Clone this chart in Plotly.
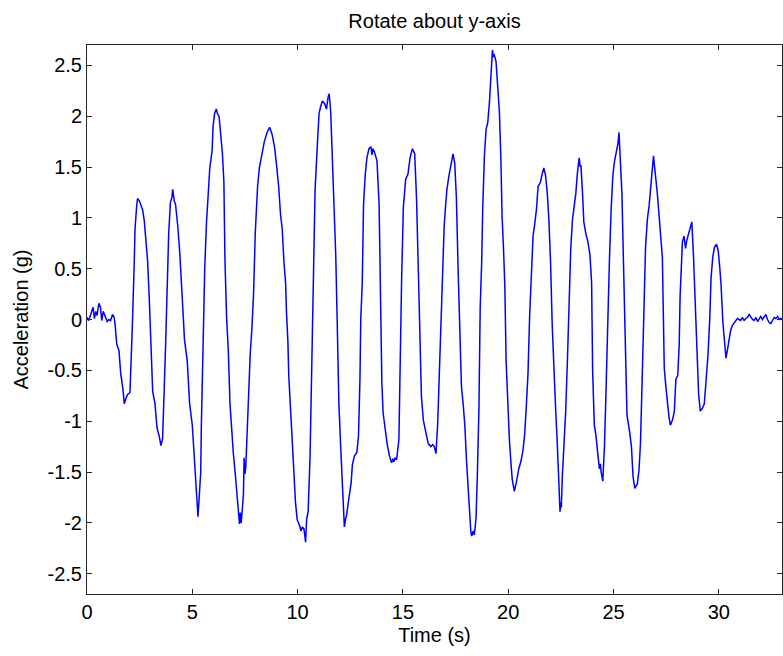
import plotly.graph_objects as go

# Time stamps (s) and acceleration readings (g) for the y-axis rotation trial
time_s = [
    0.00, 0.08, 0.16, 0.24, 0.29, 0.35, 0.42, 0.48, 0.56, 0.64, 0.70, 0.77, 0.83, 0.89, 0.96,
    1.04, 1.12, 1.21, 1.29, 1.34, 1.41, 1.52, 1.60, 1.71, 1.77, 1.84, 1.92, 2.04, 2.08, 2.16,
    2.24, 2.28, 2.36, 2.40, 2.48, 2.52, 2.64, 2.72, 2.80, 2.88, 2.96, 3.04, 3.12, 3.23, 3.32,
    3.43, 3.51, 3.59, 3.64, 3.72, 3.80, 3.88, 3.96, 4.03, 4.07, 4.15, 4.20, 4.31, 4.41, 4.52,
    4.63, 4.76, 4.87, 5.00, 5.11, 5.19, 5.27, 5.30, 5.35,
    5.40, 5.43, 5.51, 5.59, 5.67, 5.75, 5.83, 5.94, 5.99, 6.06, 6.14, 6.20, 6.27, 6.35, 6.43,
    6.50, 6.55, 6.63, 6.71, 6.79, 6.88, 6.95, 7.04, 7.14, 7.20, 7.24, 7.28, 7.32, 7.37, 7.43,
    7.46, 7.50, 7.54, 7.59, 7.67, 7.75, 7.83, 7.91, 7.99, 8.10, 8.19, 8.31, 8.42, 8.55, 8.67,
    8.79, 8.90, 8.99, 9.10, 9.19, 9.27, 9.35, 9.43, 9.47, 9.54, 9.58, 9.66, 9.74, 9.82, 9.90,
    9.98, 10.10, 10.16, 10.22, 10.30, 10.38, 10.43, 10.50, 10.59, 10.67, 10.75, 10.83, 10.94, 11.02,
    11.10, 11.18, 11.29, 11.37, 11.45, 11.50, 11.57, 11.65, 11.73, 11.81, 11.88, 11.96, 12.06, 12.14,
    12.22, 12.28, 12.33, 12.44, 12.54, 12.60, 12.70, 12.81, 12.89, 12.96, 13.00, 13.07, 13.13, 13.21,
    13.29, 13.39, 13.48, 13.53, 13.58, 13.66, 13.77, 13.87, 13.93, 14.00, 14.06, 14.17, 14.25, 14.36,
    14.46, 14.52, 14.57, 14.63, 14.70, 14.81, 14.86, 14.94, 15.02, 15.13, 15.24, 15.34, 15.45, 15.51,
    15.56, 15.65, 15.72, 15.80, 15.88, 15.97, 16.09, 16.20, 16.33, 16.41, 16.49, 16.57, 16.65, 16.73,
    16.81, 16.89, 16.96,
    17.03, 17.09, 17.19, 17.30, 17.38, 17.46, 17.54, 17.62, 17.70, 17.78, 17.86, 17.94, 18.02, 18.10,
    18.18, 18.23, 18.27, 18.34, 18.39, 18.47, 18.53, 18.61, 18.67, 18.74, 18.79, 18.87, 18.95, 19.03,
    19.11, 19.17, 19.25, 19.30, 19.33, 19.42, 19.50, 19.58, 19.65, 19.71, 19.78, 19.84, 19.90, 19.98,
    20.06, 20.13, 20.19, 20.29, 20.34, 20.38, 20.50, 20.61, 20.70, 20.78, 20.86, 20.94, 21.02, 21.10,
    21.18, 21.26, 21.34, 21.42, 21.53, 21.61, 21.69, 21.77, 21.85, 21.93, 22.01, 22.09, 22.17, 22.25,
    22.33, 22.41, 22.46, 22.49, 22.52,
    22.57, 22.65, 22.73, 22.81, 22.89, 22.97, 23.05, 23.13, 23.21, 23.29, 23.37, 23.42, 23.45, 23.53,
    23.59, 23.69, 23.77, 23.88, 23.96, 24.01, 24.09, 24.17, 24.25, 24.33, 24.38, 24.41, 24.49, 24.57,
    24.65, 24.73, 24.81, 24.89, 24.97, 25.05, 25.13, 25.21, 25.26, 25.29, 25.34, 25.40, 25.48, 25.56,
    25.64, 25.77, 25.85, 25.93, 26.01, 26.09, 26.13, 26.21, 26.28, 26.36, 26.44, 26.52, 26.61, 26.69,
    26.77, 26.85, 26.90, 26.93, 27.00, 27.08, 27.16, 27.24, 27.32, 27.36, 27.41, 27.49, 27.57, 27.64,
    27.70, 27.80, 27.89, 27.96, 28.05, 28.12,
    28.16, 28.21, 28.27, 28.35, 28.42, 28.48, 28.56, 28.64, 28.72, 28.80, 28.88, 28.96, 29.04, 29.12,
    29.23, 29.31, 29.41, 29.49, 29.57, 29.63, 29.71, 29.79, 29.89, 29.97, 30.05, 30.11, 30.19, 30.27,
    30.34, 30.40, 30.48, 30.56, 30.64, 30.72, 30.80, 30.88, 30.96, 31.04, 31.12, 31.20, 31.28, 31.36,
    31.44, 31.52, 31.60, 31.68, 31.76, 31.84, 31.92, 31.99, 32.07, 32.15, 32.23, 32.31, 32.39, 32.47,
    32.55, 32.63, 32.71, 32.79, 32.87, 32.95, 33.00,
]

accel_g = [
    0.02, -0.01, 0.04, 0.08, 0.12, 0.01, 0.08, 0.04, 0.16, 0.12, -0.01, 0.08, 0.05, 0.02, -0.02,
    0.00, -0.01, 0.05, 0.02, -0.06, -0.24, -0.31, -0.53, -0.69, -0.83, -0.78, -0.74, -0.72, -0.52, -0.02,
    0.54, 0.89, 1.12, 1.19, 1.17, 1.15, 1.08, 0.97, 0.78, 0.57, 0.19, -0.36, -0.71, -0.83, -1.06,
    -1.15, -1.24, -1.17, -0.90, -0.34, 0.26, 0.85, 1.15, 1.20, 1.28, 1.16, 1.14, 0.92, 0.64, 0.19,
    -0.20, -0.41, -0.82, -1.04, -1.43, -1.71, -1.94, -1.84, -1.71,
    -1.50, -1.04, -0.24, 0.50, 0.94, 1.29, 1.49, 1.66, 1.91, 2.03, 2.07, 2.02, 2.00, 1.82, 1.63,
    1.35, 0.59, 0.01, -0.31, -0.83, -1.17, -1.32, -1.52, -1.78, -1.95, -2.01, -1.90, -2.00, -1.88, -1.71,
    -1.36, -1.52, -1.45, -1.18, -0.92, -0.34, -0.09, 0.26, 0.85, 1.31, 1.50, 1.64, 1.75, 1.84, 1.89,
    1.82, 1.70, 1.54, 1.31, 1.03, 0.89, 0.57, 0.36, 0.08, -0.22, -0.55, -0.90, -1.25, -1.50, -1.80,
    -1.97, -2.03, -2.08, -2.04, -2.06, -2.19, -1.96, -1.89, -1.36, -0.38, 0.61, 1.28, 1.73, 2.03,
    2.10, 2.15, 2.12, 2.07, 2.19, 2.22, 2.05, 1.63, 1.20, 0.64, -0.02, -0.83, -1.32, -1.75,
    -2.04, -1.96, -1.92, -1.75, -1.61, -1.43, -1.34, -1.31, -1.15, -0.59, 0.01, 0.36, 1.13, 1.42,
    1.59, 1.68, 1.70, 1.62, 1.68, 1.64, 1.56, 1.13, 0.29, -0.62, -0.92, -1.11, -1.22, -1.34,
    -1.41, -1.37, -1.40, -1.36, -1.38, -1.18, -0.48, 0.41, 1.10, 1.38, 1.43, 1.59, 1.68, 1.66,
    1.63, 1.17, 0.61, -0.17, -0.76, -0.99, -1.11, -1.22, -1.25, -1.23, -1.25, -1.32, -1.03, -0.52,
    0.17, 0.66, 0.92,
    1.13, 1.28, 1.42, 1.56, 1.63, 1.54, 1.20, 0.50, -0.17, -0.66, -0.83, -1.04, -1.39, -1.71,
    -1.97, -2.10, -2.13, -2.08, -2.12, -1.96, -1.57, -0.87, 0.12, 0.56, 1.10, 1.61, 1.87, 1.94,
    2.14, 2.43, 2.65, 2.58, 2.61, 2.54, 2.33, 2.05, 1.59, 1.01, 0.68, 0.33, -0.41, -0.89,
    -1.20, -1.41, -1.57, -1.69, -1.62, -1.61, -1.47, -1.39, -1.29, -1.13, -0.85, -0.53, 0.05, 0.54,
    0.82, 0.94, 1.08, 1.31, 1.35, 1.43, 1.49, 1.42, 1.26, 0.99, 0.57, -0.06, -0.52, -0.87,
    -1.22, -1.75, -1.89, -1.80, -1.85,
    -1.54, -1.25, -0.90, -0.41, 0.22, 0.70, 0.98, 1.10, 1.24, 1.45, 1.59, 1.50, 1.52, 1.24,
    0.96, 0.84, 0.78, 0.64, 0.36, -0.52, -1.04, -1.15, -1.32, -1.47, -1.42, -1.50, -1.59, -1.25,
    -0.66, 0.08, 0.61, 1.10, 1.42, 1.56, 1.66, 1.73, 1.84, 1.70, 1.63, 1.24, 0.50, -0.31,
    -0.94, -1.11, -1.25, -1.55, -1.66, -1.63, -1.62, -1.48, -1.22, -0.59, 0.15, 0.71, 0.99, 1.12,
    1.31, 1.49, 1.61, 1.54, 1.42, 1.24, 1.03, 0.85, 0.61, 0.12, -0.48, -0.67, -0.87, -0.97,
    -1.04, -0.99, -0.90, -0.59, -0.55, -0.24,
    0.22, 0.54, 0.76, 0.82, 0.70, 0.78, 0.84, 0.92, 0.96, 0.61, 0.15, -0.34, -0.73, -0.90,
    -0.87, -0.83, -0.59, -0.34, 0.01, 0.40, 0.61, 0.71, 0.74, 0.68, 0.50, 0.33, -0.02, -0.27,
    -0.38, -0.31, -0.20, -0.11, -0.06, -0.04, -0.01, 0.01, 0.00, -0.01, 0.02, -0.01, 0.01, 0.02,
    0.05, 0.02, 0.00, -0.01, 0.02, -0.02, 0.01, 0.03, 0.00, 0.02, 0.05, 0.00, -0.03, -0.04,
    -0.01, 0.02, 0.01, 0.03, 0.00, 0.01, 0.00,
]

x_ticks = [0, 5, 10, 15, 20, 25, 30]
y_ticks = [-2.5, -2, -1.5, -1, -0.5, 0, 0.5, 1, 1.5, 2, 2.5]
y_tick_text = ["-2.5", "-2", "-1.5", "-1", "-0.5", "0", "0.5", "1", "1.5", "2", "2.5"]

font_family = "Liberation Sans, Arial, sans-serif"
text_color = "#000000"
frame_color = "#262626"
font_size = 20

fig = go.Figure(
    go.Scatter(
        x=time_s,
        y=accel_g,
        mode="lines",
        line=dict(color="#0000ff", width=1.5),
        showlegend=False,
    )
)

axis_common = dict(
    showline=True,
    linecolor=frame_color,
    linewidth=1,
    mirror="allticks",
    ticks="inside",
    ticklen=5,
    tickwidth=1,
    tickcolor=frame_color,
    showgrid=False,
    zeroline=False,
    tickfont=dict(family=font_family, size=font_size, color=text_color),
)

fig.update_layout(
    width=783,
    height=656,
    margin=dict(l=87, r=1, t=45, b=62),
    paper_bgcolor="white",
    plot_bgcolor="white",
    title=dict(
        text="Rotate about y-axis",
        x=0.5,
        xref="paper",
        xanchor="center",
        y=1 - 21 / 656,
        yref="container",
        yanchor="middle",
        font=dict(family=font_family, size=font_size, color=text_color),
    ),
    xaxis=dict(
        range=[0, 33],
        tickvals=x_ticks,
        ticktext=[str(v) for v in x_ticks],
        title=dict(text="Time (s)", font=dict(family=font_family, size=font_size, color=text_color), standoff=5),
        **axis_common,
    ),
    yaxis=dict(
        range=[-2.7, 2.7],
        tickvals=y_ticks,
        ticktext=y_tick_text,
        title=dict(text="Acceleration (g)", font=dict(family=font_family, size=font_size, color=text_color), standoff=13),
        **axis_common,
    ),
)

fig.write_html("out.html")
